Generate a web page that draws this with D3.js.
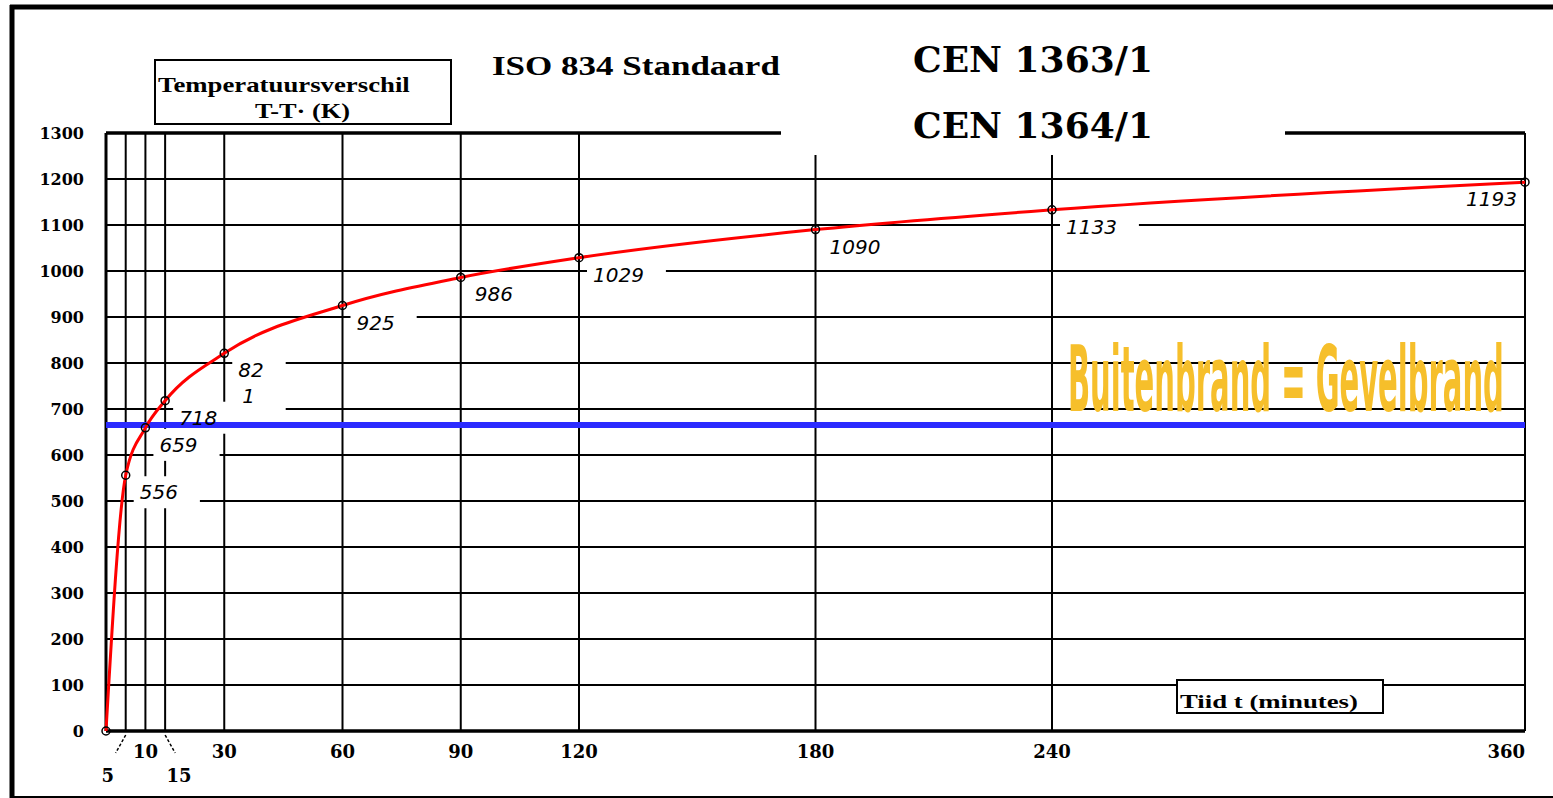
<!DOCTYPE html>
<html lang="nl">
<head>
    <meta charset="UTF-8">
    <title>ISO 834 Standaard brandkromme</title>
    <script src="https://d3js.org/d3.v7.min.js"></script>
    <style>
        body { margin: 0; background: #fff; }
        svg { display: block; }
        .serif { font-family: "DejaVu Serif", serif; font-weight: bold; }
        .times { font-family: "Liberation Serif", "Times New Roman", serif; font-weight: bold; }
        .val { font-family: "DejaVu Sans", sans-serif; font-style: italic; font-size: 20px; }
    </style>
</head>
<body>
<div id="chart"></div>
<script>
    // tijd (minuten) en temperatuurverschil (K)
    const minutes = [0, 5, 10, 15, 30, 60, 90, 120, 180, 240, 360];
    const temps = [0, 556, 659, 718, 821, 925, 986, 1029, 1090, 1133, 1193];
    const xTickMinutes = [5, 10, 15, 30, 60, 90, 120, 180, 240, 360];
    const yTicks = [0, 100, 200, 300, 400, 500, 600, 700, 800, 900, 1000, 1100, 1200, 1300];
    const blueLevel = 665;

    const W = 1553, H = 798;
    const svg = d3.select("#chart").append("svg").attr("width", W).attr("height", H);

    const x = d3.scaleLinear().domain([0, 360]).range([106, 1525]);
    const y = d3.scaleLinear().domain([0, 1300]).range([731, 133]);

    // squeeze a text horizontally to a given width (like the narrow fonts in the original)
    function fitText(sel, x0, width) {
        const w = sel.node().getComputedTextLength();
        sel.attr("x", 0).attr("transform", `translate(${x0},0) scale(${width / w},1)`);
        return sel;
    }

    // buitenkader
    svg.append("line").attr("x1", 10).attr("x2", W).attr("y1", 7).attr("y2", 7)
        .attr("stroke", "#000").attr("stroke-width", 5);
    svg.append("line").attr("x1", 12).attr("x2", 12).attr("y1", 5).attr("y2", H)
        .attr("stroke", "#000").attr("stroke-width", 5);
    svg.append("line").attr("x1", 10).attr("x2", W).attr("y1", 797).attr("y2", 797)
        .attr("stroke", "#000").attr("stroke-width", 2);

    // raster
    const grid = svg.append("g");
    grid.selectAll(".hg").data(yTicks).enter().append("line")
        .attr("x1", x(0)).attr("x2", x(360))
        .attr("y1", d => y(d)).attr("y2", d => y(d))
        .attr("stroke", "#000")
        .attr("stroke-width", d => (d === 0 || d === 1300) ? 3.5 : 1.8);
    grid.selectAll(".vg").data([0].concat(xTickMinutes)).enter().append("line")
        .attr("x1", d => x(d)).attr("x2", d => x(d))
        .attr("y1", y(1300)).attr("y2", y(0))
        .attr("stroke", "#000")
        .attr("stroke-width", d => d === 0 ? 3 : 2);

    // y-as labels
    svg.append("g").selectAll("text").data(yTicks).enter().append("text")
        .attr("class", "serif")
        .attr("x", 84).attr("y", d => y(d) + 6)
        .attr("text-anchor", "end")
        .style("font-size", "16px")
        .text(d => d);

    // x-as labels
    const lowRow = new Set([5, 15]);
    svg.append("g").selectAll("text").data(xTickMinutes).enter().append("text")
        .attr("class", "serif")
        .attr("x", d => d === 5 ? x(d) - 18 : d === 15 ? x(d) + 14 : x(d))
        .attr("y", d => lowRow.has(d) ? 782 : 758)
        .attr("text-anchor", d => d === 360 ? "end" : "middle")
        .style("font-size", "18px")
        .text(d => d);
    svg.append("g").selectAll("line").data([5, 15]).enter().append("line")
        .attr("x1", d => x(d)).attr("y1", 735)
        .attr("x2", d => d === 5 ? x(d) - 10 : x(d) + 10).attr("y2", 753)
        .attr("stroke", "#000").attr("stroke-width", 1.5)
        .attr("stroke-dasharray", "3,2");

    // waarde labels met witte achtergrond
    const pts = minutes.map((m, i) => ({ m: m, t: temps[i] })).filter(d => d.m > 0);
    const boxLayer = svg.append("g");

    // blauwe lijn
    svg.append("line")
        .attr("x1", x(0)).attr("x2", x(360))
        .attr("y1", y(blueLevel)).attr("y2", y(blueLevel))
        .attr("stroke", "#2b2bff").attr("stroke-width", 6);

    // curve
    const line = d3.line()
        .x((d, i) => x(minutes[i]))
        .y(d => y(d))
        .curve(d3.curveMonotoneX);
    svg.append("path").datum(temps)
        .attr("d", line)
        .attr("fill", "none")
        .attr("stroke", "#ff0000")
        .attr("stroke-width", 3);

    svg.append("g").selectAll("circle").data(pts.concat([{ m: 0, t: 0 }])).enter().append("circle")
        .attr("cx", d => x(d.m)).attr("cy", d => y(d.t))
        .attr("r", 4)
        .attr("fill", "none")
        .attr("stroke", "#000").attr("stroke-width", 1.5);

    const labelLayer = svg.append("g");
    pts.forEach(d => {
        const last = d.m === 360;
        const tx = last ? x(d.m) - 8 : x(d.m) + 14;
        const ty = y(d.t) + 24;
        const t = labelLayer.append("text")
            .attr("class", "val")
            .attr("x", tx).attr("y", ty)
            .attr("text-anchor", last ? "end" : "start");
        if (d.t === 821) {
            t.append("tspan").attr("x", tx).text("82");
            t.append("tspan").attr("x", tx + 4).attr("dy", 26).text("1");
        } else {
            t.text(d.t);
        }
        const bb = t.node().getBBox();
        boxLayer.append("rect")
            .attr("x", bb.x - 6).attr("y", bb.y - 4)
            .attr("width", bb.width + (last ? 10 : 28)).attr("height", bb.height + 8)
            .attr("fill", "#fff");
    });

    // titel
    fitText(svg.append("text").attr("class", "times")
        .attr("y", 75)
        .style("font-size", "28px")
        .text("ISO 834  Standaard"), 492, 288);

    svg.append("rect").attr("x", 781).attr("y", 28).attr("width", 504).attr("height", 127)
        .attr("fill", "#fff");
    svg.append("text").attr("class", "serif")
        .attr("x", 913).attr("y", 72).style("font-size", "36px")
        .text("CEN 1363/1");
    svg.append("text").attr("class", "serif")
        .attr("x", 913).attr("y", 138).style("font-size", "36px")
        .text("CEN 1364/1");

    // as-titels in kaders
    svg.append("rect").attr("x", 155).attr("y", 60).attr("width", 296).attr("height", 64)
        .attr("fill", "#fff").attr("stroke", "#000").attr("stroke-width", 2);
    fitText(svg.append("text").attr("class", "times")
        .attr("y", 92)
        .style("font-size", "21px")
        .text("Temperatuursverschil"), 158, 252);
    fitText(svg.append("text").attr("class", "times")
        .attr("y", 118)
        .style("font-size", "21px")
        .text("T-T· (K)"), 255, 95);

    svg.append("rect").attr("x", 1177).attr("y", 680).attr("width", 206).attr("height", 33)
        .attr("fill", "#fff").attr("stroke", "#000").attr("stroke-width", 2);
    fitText(svg.append("text").attr("class", "times")
        .attr("y", 708)
        .style("font-size", "19px")
        .text("Tiid t (minutes)"), 1180, 178);

    // Buitenbrand = Gevelbrand
    fitText(svg.append("text")
        .attr("y", 411)
        .style("font-family", "'Liberation Sans Narrow', 'DejaVu Sans Condensed', sans-serif")
        .style("font-weight", "bold")
        .style("font-size", "90px")
        .attr("fill", "#f6bf2b")
        .text("Buitenbrand = Gevelbrand"), 1068, 436);
</script>
</body>
</html>
